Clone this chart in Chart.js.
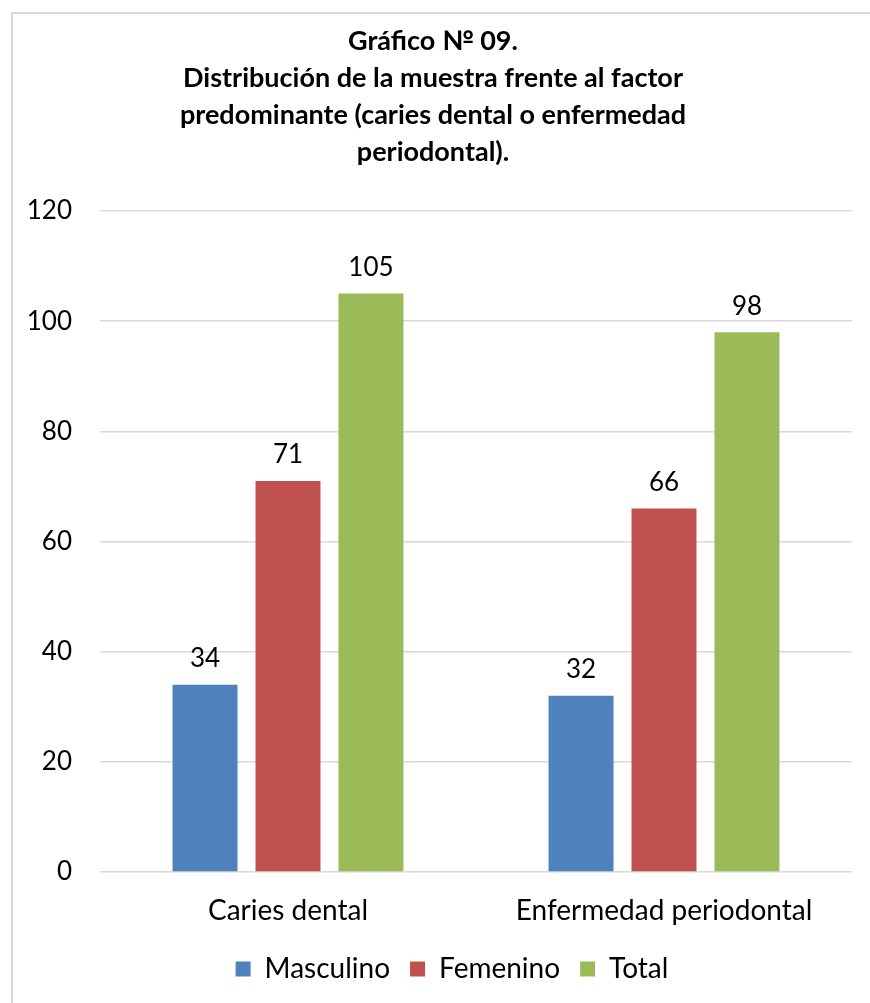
<!DOCTYPE html>
<html>
<head>
<meta charset="utf-8">
<script src="https://cdn.jsdelivr.net/npm/chart.js@4.4.0/dist/chart.umd.min.js"></script>
<style>
  html, body { margin: 0; padding: 0; background: #fff; }
  #wrap { position: relative; width: 870px; height: 1003px; overflow: hidden; }
  #frame { position: absolute; left: 11px; top: 12px; width: 900px; height: 1020px; border: 2px solid #d9d9d9; box-sizing: border-box; }
  canvas { position: absolute; left: 0; top: 0; }
</style>
</head>
<body>
<div id="wrap">
  <div id="frame"></div>
  <canvas id="chart" width="870" height="1003"></canvas>
</div>
<script>
// datos
const categories = ['Caries dental', 'Enfermedad periodontal'];
const masculino = [34, 32];
const femenino = [71, 66];
const total = [105, 98];
const titleLines = ['Gráfico № 09.', 'Distribución de la muestra frente al factor', 'predominante (caries dental o enfermedad', 'periodontal).'];

const FONT = 'Lato, "Open Sans", sans-serif';

// etiquetas de valor encima de cada barra
const valueLabels = {
  id: 'valueLabels',
  afterDatasetsDraw(chart) {
    const { ctx } = chart;
    ctx.save();
    ctx.font = `26px ${FONT}`;
    ctx.fillStyle = '#000';
    ctx.textAlign = 'center';
    ctx.textBaseline = 'middle';
    chart.data.datasets.forEach((ds, i) => {
      chart.getDatasetMeta(i).data.forEach((bar, j) => {
        ctx.fillText(String(ds.data[j]), bar.x, bar.y - 26);
      });
    });
    ctx.restore();
  },
};

// el titulo y la leyenda van centrados en el marco, no en el lienzo
const shiftBlocks = {
  id: 'shiftBlocks',
  afterLayout(chart) {
    const t = chart.titleBlock, l = chart.legend;
    if (t) { t.left += 7; t.right += 7; }
    if (l) { l.left += 26; l.right += 26; }
  },
};

new Chart(document.getElementById('chart'), {
  type: 'bar',
  data: {
    labels: categories,
    datasets: [
      { label: 'Masculino', data: masculino, backgroundColor: '#4F81BD' },
      { label: 'Femenino', data: femenino, backgroundColor: '#C0504D' },
      { label: 'Total', data: total, backgroundColor: '#9BBB59' },
    ],
  },
  options: {
    responsive: false,
    animation: false,
    categoryPercentage: 0.662,
    barPercentage: 0.783,
    layout: { padding: { left: 0, right: 18, top: 0, bottom: 10 } },
    plugins: {
      title: {
        display: true, text: titleLines, color: '#000',
        font: { family: FONT, size: 27, weight: 'bold', lineHeight: 1.37 },
        padding: { top: 23, bottom: 40 },
      },
      legend: {
        position: 'bottom',
        labels: { color: '#000', boxWidth: 15, boxHeight: 15, padding: 20, font: { family: FONT, size: 28 } },
      },
      tooltip: { enabled: false },
    },
    scales: {
      x: {
        afterFit: (scale) => { scale.height = 63; },
        grid: { display: false, drawTicks: false },
        border: { display: false },
        ticks: { color: '#000', padding: 22, font: { family: FONT, size: 28 } },
      },
      y: {
        min: 0, max: 120,
        afterFit: (scale) => { scale.width = 100; },
        grid: { color: '#d9d9d9', lineWidth: 1.5, drawTicks: false },
        border: { display: false },
        ticks: { stepSize: 20, color: '#000', padding: 28, font: { family: FONT, size: 26 } },
      },
    },
  },
  plugins: [valueLabels, shiftBlocks],
});
</script>
</body>
</html>
